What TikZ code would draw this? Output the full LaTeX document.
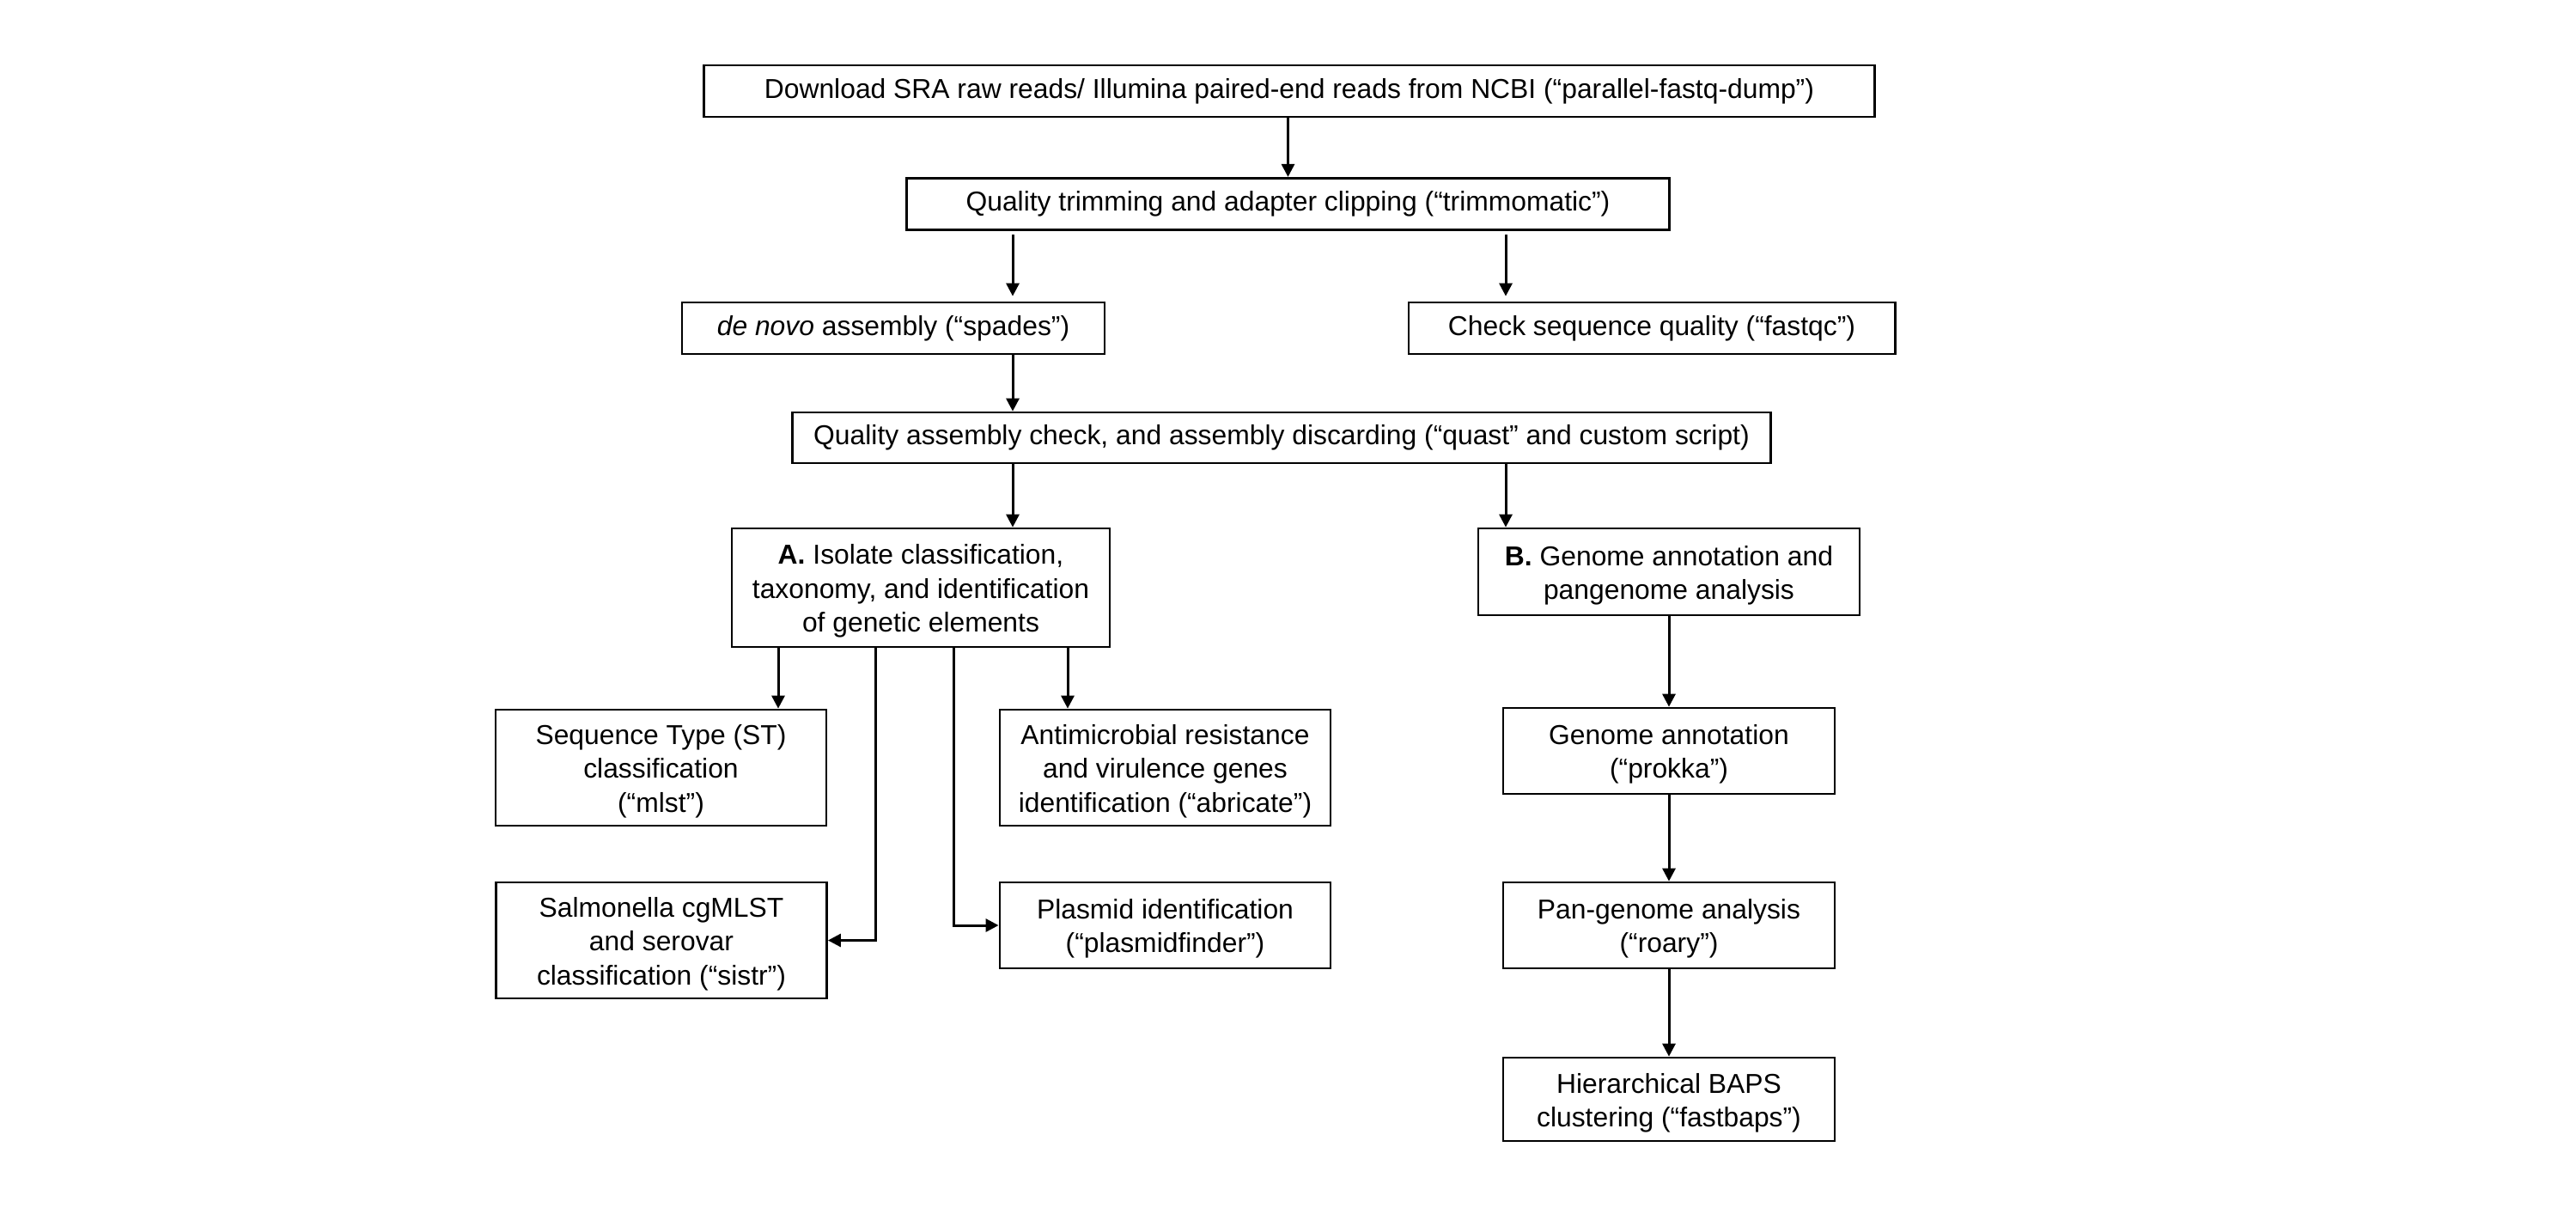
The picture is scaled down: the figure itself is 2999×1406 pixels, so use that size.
\documentclass[tikz,border=0pt]{standalone}
\usepackage{fontspec}
\setmainfont{Liberation Sans}
\usetikzlibrary{arrows.meta}
\newcommand{\tpstrut}{\rule{0pt}{0.31cm}}
\tikzset{
  box/.style={draw=black, line width=0.75pt, rectangle, inner sep=0pt, align=center,
    font=\fontsize{9.05pt}{11.2pt}\selectfont, text=black},
  arr/.style={draw=black, line width=0.85pt, -{Triangle[length=0.15cm,width=0.15cm]}},
  gaparr/.style={arr, shorten <=0.04cm, shorten >=0.06cm},
}
\begin{document}
\begin{tikzpicture}[x=0.01cm, y=-0.01cm]
\useasboundingbox (0,0) rectangle (2999,1406);
% nodes
\node[box, minimum width=13.62cm, minimum height=0.60cm] (top) at (1501,106) {Download SRA raw reads/ Illumina paired-end reads from NCBI (“parallel-fastq-dump”)};
\node[box, minimum width=8.87cm, minimum height=0.605cm] (trim) at (1499.5,237.5) {Quality trimming and adapter clipping (“trimmomatic”)};
\node[box, minimum width=4.92cm, minimum height=0.60cm] (denovo) at (1040,382) {\textit{de novo} assembly (“spades”)};
\node[box, minimum width=5.66cm, minimum height=0.60cm] (check) at (1923,382) {Check sequence quality (“fastqc”)};
\node[box, minimum width=11.38cm, minimum height=0.59cm] (qual) at (1492,509.5) {Quality assembly check, and assembly discarding (“quast” and custom script)};
\node[box, minimum width=4.40cm, minimum height=1.38cm] (A) at (1072,684) {\tpstrut\textbf{A.} Isolate classification,\\taxonomy, and identification\\of genetic elements};
\node[box, minimum width=4.44cm, minimum height=1.01cm] (B) at (1943,665.5) {\tpstrut\textbf{B.} Genome annotation and\\pangenome analysis};
\node[box, minimum width=3.85cm, minimum height=1.35cm] (st) at (769.5,893.5) {\tpstrut Sequence Type (ST)\\classification\\(“mlst”)};
\node[box, minimum width=3.85cm, minimum height=1.35cm] (amr) at (1356.5,893.5) {\tpstrut Antimicrobial resistance\\and virulence genes\\identification (“abricate”)};
\node[box, minimum width=3.85cm, minimum height=1.35cm] (sal) at (770,1094.5) {\tpstrut Salmonella cgMLST\\and serovar\\classification (“sistr”)};
\node[box, minimum width=3.85cm, minimum height=1.00cm] (plas) at (1356.5,1077) {\tpstrut Plasmid identification\\(“plasmidfinder”)};
\node[box, minimum width=3.86cm, minimum height=1.00cm] (ga) at (1943,874) {\tpstrut Genome annotation\\(“prokka”)};
\node[box, minimum width=3.86cm, minimum height=1.00cm] (pg) at (1943,1077) {\tpstrut Pan-genome analysis\\(“roary”)};
\node[box, minimum width=3.86cm, minimum height=0.97cm] (hb) at (1943,1279.5) {\tpstrut Hierarchical BAPS\\clustering (“fastbaps”)};
% guide coordinates
\coordinate (xL) at (1179,0);
\coordinate (xR) at (1753,0);
\coordinate (xST) at (906,0);
\coordinate (xSal) at (1019,0);
\coordinate (xPl) at (1110,0);
\coordinate (xAMR) at (1243,0);
% connectors
\draw[arr] (top.south -| trim.north) -- (trim.north);
\draw[gaparr] (trim.south -| xL) -- (denovo.north -| xL);
\draw[gaparr] (trim.south -| xR) -- (check.north -| xR);
\draw[arr] (denovo.south -| xL) -- (qual.north -| xL);
\draw[arr] (qual.south -| xL) -- (A.north -| xL);
\draw[arr] (qual.south -| xR) -- (B.north -| xR);
\draw[arr] (A.south -| xST) -- (st.north -| xST);
\draw[arr] (A.south -| xAMR) -- (amr.north -| xAMR);
\draw[arr] (A.south -| xSal) |- (sal.east);
\draw[arr] (A.south -| xPl) |- (plas.west);
\draw[arr] (B.south) -- (ga.north);
\draw[arr] (ga.south) -- (pg.north);
\draw[arr] (pg.south) -- (hb.north);
\end{tikzpicture}
\end{document}
